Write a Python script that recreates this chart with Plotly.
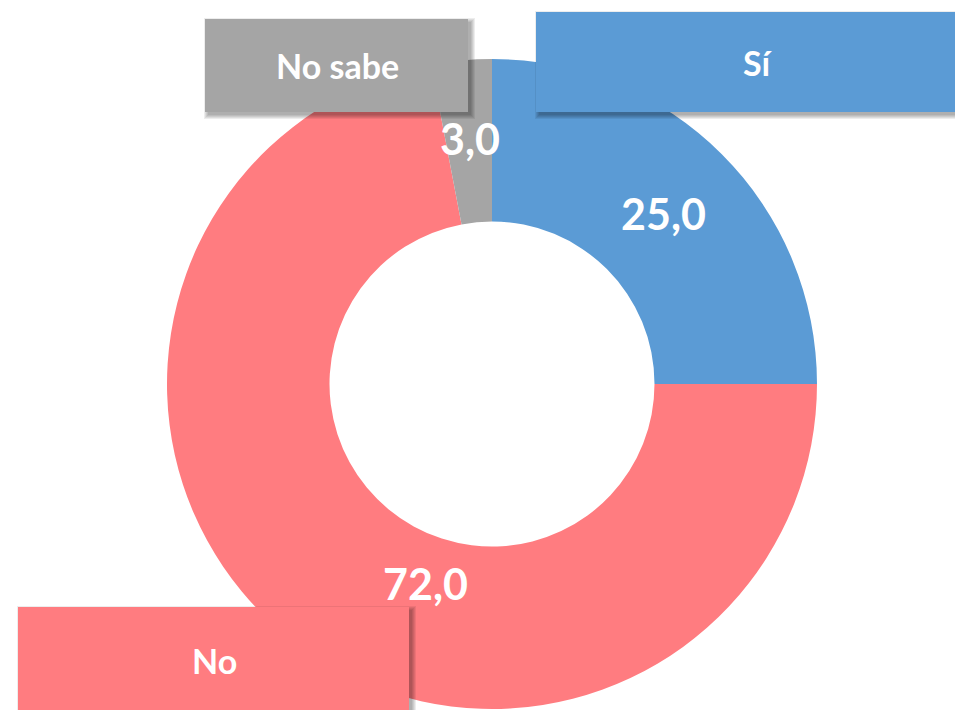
import plotly.graph_objects as go

# ---- data ----
categories = ["Sí", "No", "No sabe"]
values = [25.0, 72.0, 3.0]
value_labels = ["25,0", "72,0", "3,0"]
colors = ["#5B9BD5", "#FF7C80", "#A5A5A5"]

# ---- layout constants (pixels in the 963x710 window) ----
PAGE_MARGIN = 8          # default body margin of the html page
W, H = 963 - PAGE_MARGIN, 710 - PAGE_MARGIN
cx, cy, R = 492, 384, 325
FONT = "Lato"

# value label centres (px)
value_pos = [(663, 214), (425, 583), (470, 139)]
# category label boxes (x0, y0, x1, y1) in px
box_pos = [(536, 12, 990, 112), (18, 607, 409, 730), (205, 19, 468, 112)]
box_text_pos = [(758, 63), (214, 660), (337, 66)]


def px(x):
    return (x - PAGE_MARGIN) / W


def py(y):
    return 1 - (y - PAGE_MARGIN) / H


fig = go.Figure()
fig.add_trace(go.Pie(
    labels=categories,
    values=values,
    sort=False,
    direction="clockwise",
    rotation=0,
    hole=0.5,
    marker=dict(colors=colors, line=dict(width=0)),
    textinfo="none",
    hoverinfo="label+value",
    showlegend=False,
    domain=dict(x=[px(cx - R), px(cx + R)],
                y=[max(0, py(cy + R)), min(1, py(cy - R))]),
))

shapes = []
annotations = []

for (x0, y0, x1, y1), col in zip(box_pos, colors):
    # soft drop shadow (stack of translucent rects)
    for grow in [4, 3, 2, 1, 0]:
        shapes.append(dict(
            type="rect", xref="paper", yref="paper", layer="above",
            x0=px(x0 + 3 - grow), x1=px(x1 + 3 + grow),
            y0=py(y1 + 3 + grow), y1=py(y0 + 3 - grow),
            fillcolor="rgba(0,0,0,0.07)", line=dict(width=0),
        ))
    shapes.append(dict(
        type="rect", xref="paper", yref="paper", layer="above",
        x0=px(x0), x1=px(x1), y0=py(y1), y1=py(y0),
        fillcolor=col, line=dict(width=0),
    ))

for cat, (tx, ty) in zip(categories, box_text_pos):
    annotations.append(dict(
        text=cat, x=px(tx), y=py(ty), xref="paper", yref="paper",
        xanchor="center", yanchor="middle", showarrow=False,
        font=dict(family=FONT, size=34, color="white", weight=700),
    ))

for lab, (tx, ty) in zip(value_labels, value_pos):
    annotations.append(dict(
        text=lab, x=px(tx), y=py(ty), xref="paper", yref="paper",
        xanchor="center", yanchor="middle", showarrow=False,
        font=dict(family=FONT, size=43, color="white", weight=700),
    ))

fig.update_layout(
    width=W, height=H,
    margin=dict(l=0, r=0, t=0, b=0),
    paper_bgcolor="white", plot_bgcolor="white",
    shapes=shapes, annotations=annotations,
)

fig.write_html("out.html")
